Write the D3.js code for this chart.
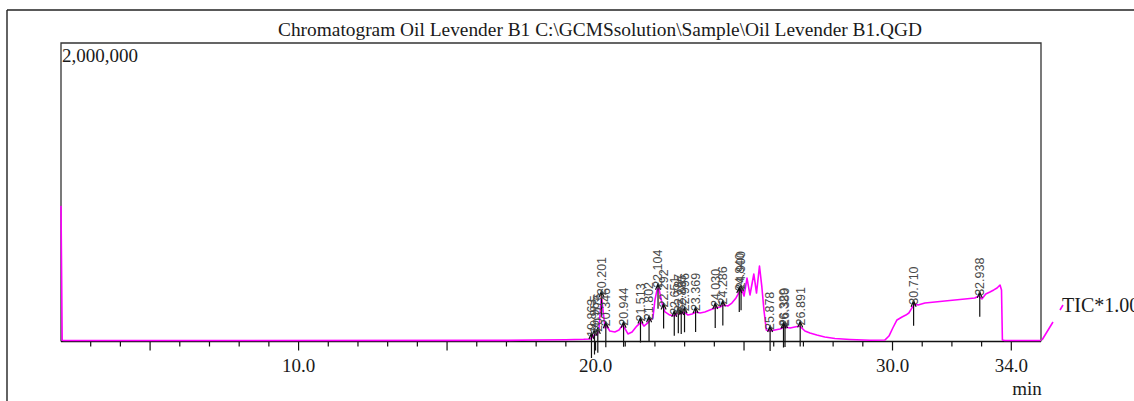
<!DOCTYPE html>
<html>
<head>
<meta charset="utf-8">
<script src="https://cdn.jsdelivr.net/npm/d3@7"></script>
<style>
  body { margin: 0; background: #fff; }
  svg { display: block; }
</style>
</head>
<body>
<svg width="1134" height="401"></svg>
<script>
// TIC trace, retention time (min) and intensity
const traceTimes = [2.00, 2.04, 2.10, 17.0, 18.0, 19.0, 19.6, 19.81, 19.91, 19.98, 20.05, 20.11, 20.20, 20.25, 20.32, 20.38,
  20.48, 20.65, 20.79, 20.89, 20.96, 21.09, 21.23, 21.39, 21.53, 21.63, 21.76, 21.83, 21.93, 22.00, 22.07, 22.13,
  22.20, 22.27, 22.34, 22.50, 22.67, 22.77, 22.88, 22.98, 23.11, 23.25, 23.38, 23.52, 23.68, 23.85, 24.02, 24.19,
  24.32, 24.46, 24.59, 24.73, 24.86, 24.93, 25.00, 25.10, 25.20, 25.33, 25.42, 25.52, 25.60, 25.67, 25.75, 25.87,
  26.04, 26.21, 26.38, 26.55, 26.71, 26.88, 27.05, 27.22, 27.45, 27.72, 28.06, 28.57, 29.24, 29.74, 29.88, 30.01,
  30.15, 30.32, 30.45, 30.55, 30.65, 30.75, 30.86, 31.09, 31.43, 31.76, 32.10, 32.44, 32.77, 32.91, 33.01, 33.14,
  33.28, 33.41, 33.52, 33.62, 33.67, 33.70, 33.78, 35.00];
const traceValues = [905000, 2000, 0, 1000, 3000, 5000, 8000, 10000, 23000, 44000, 37000, 70000, 300000, 205000, 84000, 97000,
  64000, 57000, 70000, 97000, 91000, 44000, 57000, 97000, 124000, 97000, 118000, 138000, 151000, 272000, 340000, 353000,
  286000, 225000, 192000, 171000, 165000, 185000, 178000, 192000, 171000, 178000, 192000, 185000, 192000, 205000, 218000, 225000,
  239000, 232000, 252000, 286000, 333000, 340000, 299000, 420000, 306000, 447000, 319000, 501000, 360000, 205000, 71000, 64000,
  71000, 77000, 91000, 84000, 91000, 97000, 64000, 50000, 37000, 24000, 13000, 7000, 2000, 3000, 30000, 84000,
  138000, 158000, 171000, 185000, 218000, 245000, 239000, 252000, 259000, 266000, 272000, 279000, 286000, 299000, 279000, 313000,
  326000, 340000, 353000, 373000, 340000, 3000, 0, 0];

// integrated peaks
const peakTimes = [19.863, 19.965, 20.076, 20.201, 20.346, 20.944, 21.513, 21.802, 22.104, 22.292, 22.651, 22.787, 22.885,
  22.996, 23.369, 24.030, 24.286, 24.840, 24.900, 25.878, 26.329, 26.380, 26.891, 30.710, 32.938];
const peakLabels = ["19.863", "19.965", "20.076", "20.201", "20.346", "20.944", "21.513", "21.802", "22.104", "22.292", "22.651",
  "22.787", "22.885", "22.996", "23.369", "24.030", "24.286", "24.840", "24.900", "25.878", "26.329", "26.380", "26.891",
  "30.710", "32.938"];

// axis
const xMinorTicks = [3, 4, 6, 7, 8, 9, 11, 12, 13, 14, 16, 17, 18, 19, 21, 22, 23, 24, 26, 27, 28, 29, 31, 32, 33];
const xMajorTicks = [5, 10, 15, 20, 25, 30, 34];
const xTickLabels = [10, 20, 30, 34];
const yTopLabel = "2,000,000";

const title = "Chromatogram Oil Levender B1 C:\\GCMSsolution\\Sample\\Oil Levender B1.QGD";

const svg = d3.select("svg");
const plot = { left: 61, right: 1041, top: 43, bottom: 340.5 };

const x = d3.scaleLinear().domain([2, 35]).range([plot.left, plot.right]);
const y = d3.scaleLinear().domain([0, 2000000]).range([plot.bottom, plot.top]);

const trace = traceTimes.map((t, i) => [t, traceValues[i]]);
const valueAt = d3.scaleLinear().domain(traceTimes).range(traceValues);

// outer page frame
svg.append("line").attr("x1", 7).attr("y1", 10).attr("x2", 1134).attr("y2", 10)
  .attr("stroke", "#222").attr("stroke-width", 1.4);
svg.append("line").attr("x1", 7).attr("y1", 10).attr("x2", 7).attr("y2", 401)
  .attr("stroke", "#222").attr("stroke-width", 1.4);

// title
svg.append("text")
  .attr("x", 600).attr("y", 36)
  .attr("text-anchor", "middle")
  .attr("font-family", "Liberation Serif, Times New Roman, serif")
  .attr("font-size", 19)
  .attr("textLength", 644).attr("lengthAdjust", "spacingAndGlyphs")
  .attr("fill", "#1a1a1a")
  .text(title);

// plot box
svg.append("path")
  .attr("d", `M${plot.left},${plot.bottom + 1} V${plot.top} H${plot.right} V${plot.bottom + 1}`)
  .attr("fill", "none").attr("stroke", "#333").attr("stroke-width", 1.3);

// x axis
const axisY = plot.bottom + 1;
svg.append("line").attr("x1", plot.left).attr("x2", plot.right)
  .attr("y1", axisY).attr("y2", axisY).attr("stroke", "#111").attr("stroke-width", 1.3);

svg.append("g").selectAll("line").data(xMinorTicks).join("line")
  .attr("x1", d => x(d)).attr("x2", d => x(d))
  .attr("y1", axisY).attr("y2", axisY + 5)
  .attr("stroke", "#111").attr("stroke-width", 1.2);

svg.append("g").selectAll("line").data(xMajorTicks).join("line")
  .attr("x1", d => x(d)).attr("x2", d => x(d))
  .attr("y1", axisY).attr("y2", axisY + 9)
  .attr("stroke", "#111").attr("stroke-width", 1.2);

svg.append("g").selectAll("text").data(xTickLabels).join("text")
  .attr("x", d => x(d)).attr("y", 372)
  .attr("text-anchor", "middle")
  .attr("font-family", "Liberation Serif, Times New Roman, serif")
  .attr("font-size", 19).attr("fill", "#1a1a1a")
  .text(d => d3.format(".1f")(d));

svg.append("text")
  .attr("x", 1027).attr("y", 395)
  .attr("text-anchor", "middle")
  .attr("font-family", "Liberation Serif, Times New Roman, serif")
  .attr("font-size", 19).attr("fill", "#1a1a1a")
  .text("min");

// y top label
svg.append("text")
  .attr("x", plot.left + 1).attr("y", 62)
  .attr("font-family", "Liberation Serif, Times New Roman, serif")
  .attr("font-size", 19).attr("fill", "#1a1a1a")
  .text(yTopLabel);

// trace
const line = d3.line().x(d => x(d[0])).y(d => y(d[1]));
svg.append("path")
  .datum(trace)
  .attr("d", line)
  .attr("fill", "none")
  .attr("stroke", "#ff00ff")
  .attr("stroke-width", 1.6)
  .attr("stroke-linejoin", "round");

// legend sample + label
svg.append("path")
  .attr("d", "M1042,340 L1053,322 M1060,310 L1063,305")
  .attr("stroke", "#ff00ff").attr("stroke-width", 1.6).attr("fill", "none");
svg.append("text")
  .attr("x", 1062).attr("y", 312)
  .attr("font-family", "Liberation Serif, Times New Roman, serif")
  .attr("font-size", 20).attr("fill", "#1a1a1a")
  .text("TIC*1.00");

// peak markers
const peaks = peakTimes.map((t, i) => ({ t, label: peakLabels[i], py: y(valueAt(t)) }));
const pk = svg.append("g");
pk.selectAll("path.mark").data(peaks).join("path")
  .attr("class", "mark")
  .attr("d", d => {
    const px = x(d.t);
    return `M${px},${d.py + 20} V${d.py - 5} M${px - 2.5},${d.py + 1} L${px},${d.py - 5} L${px + 2.5},${d.py + 1}`;
  })
  .attr("fill", "none").attr("stroke", "#111").attr("stroke-width", 1.2);

pk.selectAll("text").data(peaks).join("text")
  .attr("transform", d => `translate(${x(d.t)},${d.py - 1}) rotate(-90)`)
  .attr("dy", "0.35em")
  .attr("font-family", "Liberation Sans, Arial, sans-serif")
  .attr("font-size", 12.5)
  .attr("fill", "#4a4a4a")
  .text(d => d.label);
</script>
</body>
</html>
